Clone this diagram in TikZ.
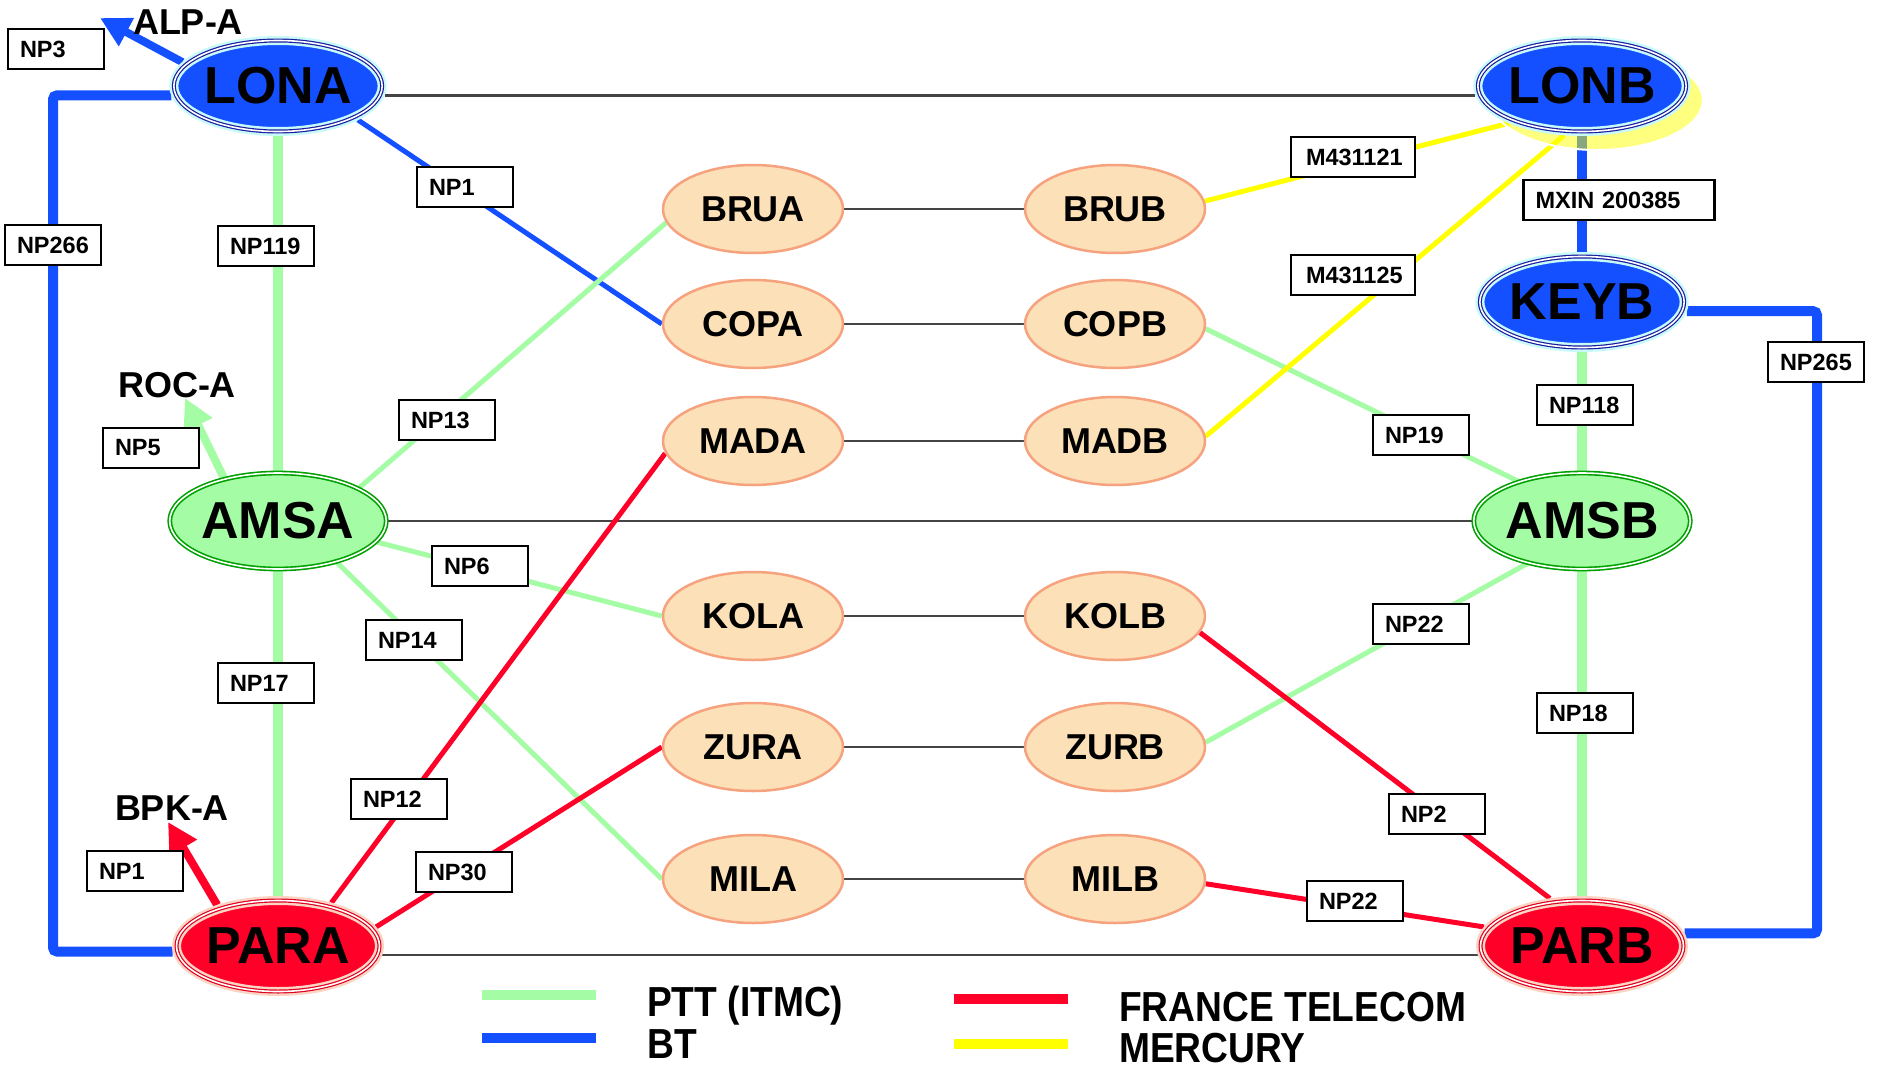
\documentclass[tikz,border=0pt]{standalone}
\usepackage{fontspec}
\setmainfont{Liberation Sans}
\usetikzlibrary{shapes.geometric, arrows.meta}
\definecolor{cBlue}{HTML}{1450FF}
\definecolor{cGreen}{HTML}{A4FCA4}
\definecolor{cRed}{HTML}{FF0028}
\definecolor{cYellow}{HTML}{FFFF00}
\definecolor{cPeach}{HTML}{FCE0B8}
\definecolor{cPeachLine}{HTML}{F6A27E}
\definecolor{cDkGreen}{HTML}{00A000}
\definecolor{cNavy}{HTML}{1C1CA0}
\definecolor{cCyanHalo}{HTML}{C8FAFA}
\definecolor{cPinkHalo}{HTML}{FCD4C4}
\definecolor{cDkRed}{HTML}{E00020}
\definecolor{cGrey}{HTML}{444444}
\pgfdeclarelayer{bg}
\pgfdeclarelayer{lines}
\pgfdeclarelayer{halo}
\pgfsetlayers{bg,lines,halo,main}
\begin{document}
\begin{tikzpicture}[x=1pt,y=-1pt,
  big/.style={ellipse, minimum width=203pt, minimum height=91pt, inner sep=0pt,
    font=\fontsize{52}{56}\selectfont\bfseries},
  bigblue/.style={big, fill=cBlue, draw=cCyanHalo, line width=9pt,
    postaction={draw=cNavy, line width=1.2pt, double=white, double distance=1.6pt}},
  biggreen/.style={big, minimum width=206pt, minimum height=96pt, fill=cGreen,
    postaction={draw=cDkGreen, line width=1.6pt, double=white, double distance=1.6pt}},
  bigred/.style={big, fill=cRed, draw=cPinkHalo, line width=9pt,
    postaction={draw=cDkRed, line width=1.2pt, double=white, double distance=1.6pt}},
  small/.style={ellipse, fill=cPeach, draw=cPeachLine, line width=2.5pt,
    minimum width=180pt, minimum height=88pt, inner sep=0pt,
    font=\fontsize{36}{40}\selectfont\bfseries},
  lbl/.style={draw, fill=white, line width=2.5pt, minimum height=40pt,
    inner xsep=12pt, inner ysep=0pt, text width=72pt, align=left,
    font=\fontsize{23.5}{25}\selectfont\bfseries},
  ext/.style={font=\fontsize{36}{40}\selectfont\bfseries},
  leg/.style={anchor=base west, inner sep=0pt, font=\fontsize{42}{46}\selectfont\bfseries},
  greyline/.style={draw=cGrey, line width=2.5pt},
  bluethick/.style={draw=cBlue, line width=10pt},
  greenthick/.style={draw=cGreen, line width=10pt},
  bluethin/.style={draw=cBlue, line width=5pt},
  greenthin/.style={draw=cGreen, line width=5pt},
  redthin/.style={draw=cRed, line width=5pt},
  yellowthin/.style={draw=cYellow, line width=5pt},
  tip/.style={-{Triangle[length=30pt, width=30pt]}, line width=8pt}
]
\useasboundingbox (0,0) rectangle (1880,1068);
\begin{pgfonlayer}{bg}
  \fill[white] (0,0) rectangle (1880,1068);
\end{pgfonlayer}

% big nodes
\node[bigblue] (LONA) at (278,86) {LONA};
\node[bigblue] (LONB) at (1582,86) {LONB};
\node[bigblue] (KEYB) at (1582,302) {KEYB};
\node[biggreen] (AMSA) at (278,521) {AMSA};
\node[biggreen] (AMSB) at (1582,521) {AMSB};
\node[bigred] (PARA) at (278,946) {PARA};
\node[bigred] (PARB) at (1582,946) {PARB};

% small nodes
\node[small] (BRUA) at (753,209) {BRUA};
\node[small] (BRUB) at (1115,209) {BRUB};
\node[small] (COPA) at (753,324) {COPA};
\node[small] (COPB) at (1115,324) {COPB};
\node[small] (MADA) at (753,441) {MADA};
\node[small] (MADB) at (1115,441) {MADB};
\node[small] (KOLA) at (753,616) {KOLA};
\node[small] (KOLB) at (1115,616) {KOLB};
\node[small] (ZURA) at (753,747) {ZURA};
\node[small] (ZURB) at (1115,747) {ZURB};
\node[small] (MILA) at (753,879) {MILA};
\node[small] (MILB) at (1115,879) {MILB};

% external texts
\node[ext] (alptxt) at (188,22) {ALP-A};
\node[ext] (roctxt) at (177,385) {ROC-A};
\node[ext] (bpktxt) at (172,808) {BPK-A};
\coordinate (alp) at (100,18);
\coordinate (roc) at (185,398);
\coordinate (bpk) at (168,822);
\coordinate (cl) at (53,500);
\coordinate (cr) at (1817,600);

\begin{pgfonlayer}{lines}
  % grey links
  \draw[greyline] (LONA.-5) -- (LONB.185);
  \draw[greyline] (AMSA) -- (AMSB);
  \draw[greyline] (PARA.-5) -- (PARB.185);
  \draw[greyline] (BRUA) -- (BRUB);
  \draw[greyline] (COPA) -- (COPB);
  \draw[greyline] (MADA) -- (MADB);
  \draw[greyline] (KOLA) -- (KOLB);
  \draw[greyline] (ZURA) -- (ZURB);
  \draw[greyline] (MILA) -- (MILB);
  % BT
  \draw[bluethick, rounded corners=4pt] (LONA.185) -| (cl) |- (PARA.183);
  \draw[bluethick, rounded corners=4pt] (KEYB.355) -| (cr) |- (PARB.7);
  \draw[bluethick] (LONB.south) -- (KEYB.north);
  \draw[bluethin] (LONA.-23) -- (COPA.west);
  \draw[tip, draw=cBlue, fill=cBlue] (LONA.166) -- (alp);
  % PTT
  \draw[greenthick] (LONA.south) -- (AMSA.north);
  \draw[greenthick] (AMSA.south) -- (PARA.north);
  \draw[greenthick] (KEYB.south) -- (AMSB.north);
  \draw[greenthick] (AMSB.south) -- (PARB.north);
  \draw[greenthin] (AMSA.22) -- (BRUA.189);
  \draw[greenthin] (AMSA.-12) -- (KOLA.west);
  \draw[greenthin] (AMSA.-35) -- (MILA.west);
  \draw[greenthin] (COPB.-3) -- (AMSB.148);
  \draw[greenthin] (ZURB.3) -- (AMSB.218);
  \draw[tip, draw=cGreen, fill=cGreen] (AMSA.142) -- (roc);
  % France Telecom
  \draw[redthin] (PARA.39) -- (MADA.188);
  \draw[redthin] (PARA.11) -- (ZURA.west);
  \draw[redthin] (KOLB.-11) -- (PARB.124);
  \draw[redthin] (MILB.-3) -- (PARB.169);
  \draw[tip, draw=cRed, fill=cRed] (PARA.146) -- (bpk);
  % Mercury
  \draw[yellowthin] (BRUB.5) -- (LONB.207);
  \draw[yellowthin] (MADB.3) -- (LONB.250);
\end{pgfonlayer}

\begin{pgfonlayer}{halo}
  \draw[draw=white, line width=2pt, fill=cYellow, fill opacity=0.5]
    (1597,100) ellipse [x radius=106, y radius=50];
\end{pgfonlayer}

% labels
\node[lbl] (lNP3) at (56,49) {NP3};
\node[lbl] (lNP266) at (53,245) {NP266};
\node[lbl] (lNP119) at (266,246) {NP119};
\node[lbl] (lNP1a) at (465,187) {NP1};
\node[lbl] (lNP13) at (447,420) {NP13};
\node[lbl] (lNP5) at (151,448) {NP5};
\node[lbl] (lNP6) at (480,566) {NP6};
\node[lbl] (lNP14) at (414,640) {NP14};
\node[lbl] (lNP17) at (266,683) {NP17};
\node[lbl] (lNP12) at (399,799) {NP12};
\node[lbl] (lNP1b) at (135,871) {NP1};
\node[lbl] (lNP30) at (464,872) {NP30};
\node[lbl, text width=94pt, inner xsep=15pt] (lM1) at (1353,157) {M431121};
\node[lbl, text width=94pt, inner xsep=15pt] (lM2) at (1353,275) {M431125};
\node[lbl, text width=167pt] (lMX) at (1619,200) {MXIN 200385};
\node[lbl] (lNP265) at (1816,362) {NP265};
\node[lbl] (lNP118) at (1585,405) {NP118};
\node[lbl] (lNP19) at (1421,435) {NP19};
\node[lbl] (lNP22a) at (1421,624) {NP22};
\node[lbl] (lNP18) at (1585,713) {NP18};
\node[lbl] (lNP2) at (1437,814) {NP2};
\node[lbl] (lNP22b) at (1355,901) {NP22};

% legend
\draw[greenthick] (482,995) -- (596,995);
\draw[bluethick] (482,1038) -- (596,1038);
\draw[draw=cRed, line width=10pt] (954,999) -- (1068,999);
\draw[draw=cYellow, line width=10pt] (954,1044) -- (1068,1044);
\node[leg] (t1) at (647,1016) {\scalebox{0.885}[1]{PTT (ITMC)}};
\node[leg] (t2) at (647,1058) {\scalebox{0.885}[1]{BT}};
\node[leg] (t3) at (1119,1021) {\scalebox{0.885}[1]{FRANCE TELECOM}};
\node[leg] (t4) at (1119,1062) {\scalebox{0.885}[1]{MERCURY}};
\end{tikzpicture}
\end{document}
